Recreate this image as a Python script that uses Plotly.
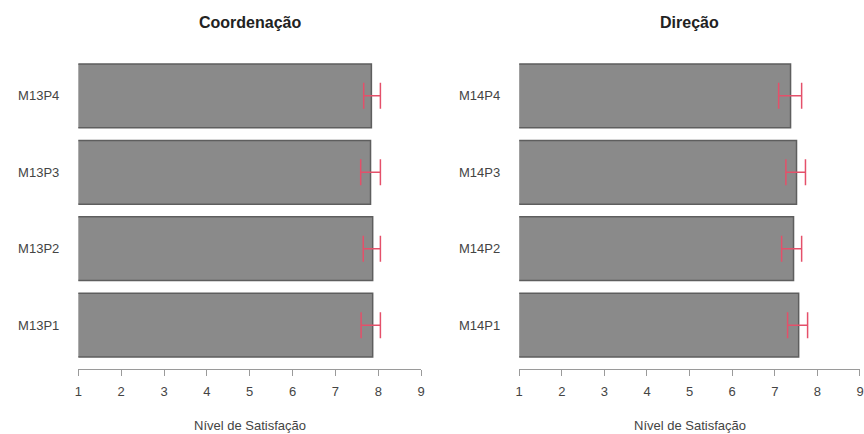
import plotly.graph_objects as go

# Data
categories_left = ["M13P1", "M13P2", "M13P3", "M13P4"]
means_left = [7.87, 7.87, 7.82, 7.84]
lower_left = [7.60, 7.65, 7.59, 7.66]
upper_left = [8.05, 8.05, 8.05, 8.05]

categories_right = ["M14P1", "M14P2", "M14P3", "M14P4"]
means_right = [7.56, 7.44, 7.51, 7.37]
lower_right = [7.30, 7.16, 7.26, 7.09]
upper_right = [7.77, 7.63, 7.72, 7.63]

titles = ["Coordenação", "Direção"]
x_title = "Nível de Satisfação"
x_ticks = [1, 2, 3, 4, 5, 6, 7, 8, 9]

W, H = 864, 434
FONT = "Liberation Sans, Arial, sans-serif"
TXT = "#444444"

fig = go.Figure()

panels = [
    (categories_left, means_left, lower_left, upper_left, "x", "y", [75 / W, 421 / W]),
    (categories_right, means_right, lower_right, upper_right, "x2", "y2", [520 / W, 864 / W]),
]

for cats, m, lo, up, xa, ya, dom in panels:
    fig.add_trace(go.Bar(
        y=cats, x=m, orientation="h", xaxis=xa, yaxis=ya,
        marker=dict(color="#8a8a8a", line=dict(color="#5e5e5e", width=1.5)),
        error_x=dict(type="data", symmetric=False,
                     array=[u - v for u, v in zip(up, m)],
                     arrayminus=[v - l for v, l in zip(m, lo)],
                     color="#e4506a", thickness=1.5, width=13),
        showlegend=False,
    ))

ydom = [1 - 368.7 / H, 1 - 52.3 / H]
common_x = dict(range=[1, 9], tickvals=x_ticks, ticks="outside", ticklen=6,
                tickcolor="#9a9a9a", showline=True, linecolor="#9a9a9a", linewidth=1,
                showgrid=False, zeroline=False, ticklabelstandoff=5,
                tickfont=dict(family=FONT, size=13, color=TXT))
common_y = dict(type="category", range=[-0.57, 3.57], domain=ydom, showgrid=False,
                zeroline=False, showline=False, ticks="", ticklabelstandoff=18,
                tickfont=dict(family=FONT, size=13, color=TXT))

fig.update_layout(
    width=W, height=H, autosize=False,
    margin=dict(l=0, r=0, t=0, b=0),
    paper_bgcolor="white", plot_bgcolor="white",
    bargap=1 - 1 / 1.2,
    xaxis=dict(domain=panels[0][6], anchor="y", **common_x),
    yaxis=dict(anchor="x", **common_y),
    xaxis2=dict(domain=panels[1][6], anchor="y2", **common_x),
    yaxis2=dict(anchor="x2", **common_y),
)

for i, dom in enumerate([panels[0][6], panels[1][6]]):
    cx = (dom[0] + dom[1]) / 2
    fig.add_annotation(text="<b>" + titles[i] + "</b>", x=cx, y=1 - 22 / H,
                       xref="paper", yref="paper", showarrow=False,
                       xanchor="center", yanchor="middle",
                       font=dict(family=FONT, size=16, color="#222"))
    fig.add_annotation(text=x_title, x=cx, y=1 - 425 / H,
                       xref="paper", yref="paper", showarrow=False,
                       xanchor="center", yanchor="middle",
                       font=dict(family=FONT, size=13, color=TXT))

fig.write_html("out.html", config={"displayModeBar": False},
               post_script="document.body.style.margin='0';document.body.style.overflow='hidden';")
